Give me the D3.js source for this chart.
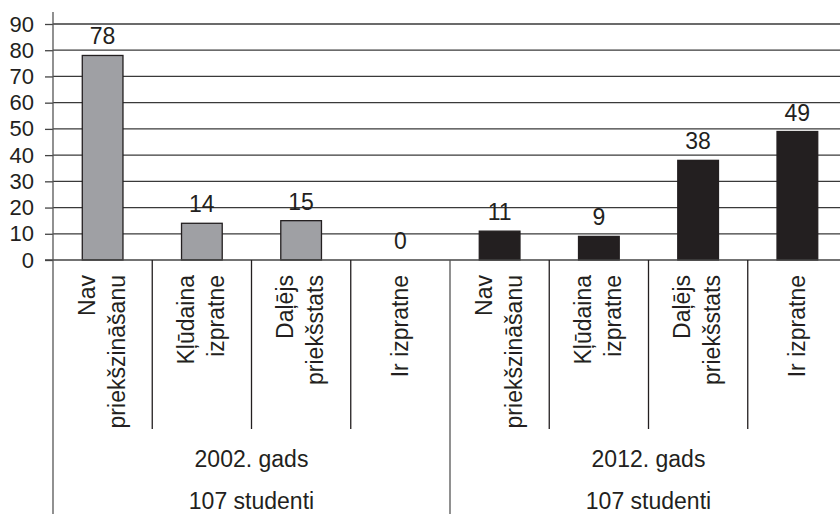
<!DOCTYPE html>
<html>
<head>
<meta charset="utf-8">
<script src="https://cdn.jsdelivr.net/npm/d3@7"></script>
<style>
  html, body { margin: 0; padding: 0; background: #fff; }
  svg { display: block; }
  text { font-family: "Liberation Sans", Arial, sans-serif; fill: #231f20; }
</style>
</head>
<body>
<svg id="chart" width="840" height="514"></svg>
<script>
// ---- data ----
const categoryLabels = [["Nav", "priekšzināšanu"], ["Kļūdaina", "izpratne"], ["Daļējs", "priekšstats"], ["Ir izpratne"]];
const groupYears = ["2002. gads", "2012. gads"];
const groupStudents = ["107 studenti", "107 studenti"];
const values2002 = [78, 14, 15, 0];
const values2012 = [11, 9, 38, 49];
const yTicks = [0, 10, 20, 30, 40, 50, 60, 70, 80, 90];

(function () {
// ---- build flat rows ----
const rows = [];
[values2002, values2012].forEach((vals, g) => {
  vals.forEach((v, i) => rows.push({ group: g, cat: i, label: categoryLabels[i], value: v }));
});

const svg = d3.select("#chart");
const mLeft = 53, mRight = 847, mTop = 24, mBase = 260;

const x = d3.scaleBand().domain(d3.range(rows.length)).range([mLeft, mRight]).padding(0);
const y = d3.scaleLinear().domain([0, 90]).range([mBase, mTop]);
const bw = x.bandwidth();
const barW = bw * 0.41;
const fills = ["#9fa0a4", "#231f20"];

// gridlines
svg.append("g").selectAll("line").data(yTicks.filter(t => t > 0)).join("line")
  .attr("x1", mLeft).attr("x2", 840)
  .attr("y1", d => y(d)).attr("y2", d => y(d))
  .attr("stroke", "#3a3a3a").attr("stroke-width", 1.3);

// y axis with ticks
const yAxis = d3.axisLeft(y).tickValues(yTicks).tickSize(8).tickPadding(11).tickFormat(d3.format("d"));
const ga = svg.append("g").attr("transform", `translate(${mLeft},0)`).call(yAxis);
ga.select(".domain").remove();
ga.selectAll(".tick line").attr("stroke", "#444").attr("stroke-width", 1.3);
ga.selectAll(".tick text").style("font-size", "22px").attr("fill", "#231f20")
  .attr("font-family", "Liberation Sans, Arial, sans-serif");

// bars
svg.append("g").selectAll("rect").data(rows).join("rect")
  .attr("x", (d, i) => x(i) + (bw - barW) / 2)
  .attr("width", barW)
  .attr("y", d => y(d.value))
  .attr("height", d => y(0) - y(d.value))
  .attr("fill", d => fills[d.group])
  .attr("stroke", "#231f20").attr("stroke-width", 1.3);

// value labels
svg.append("g").selectAll("text").data(rows).join("text")
  .attr("x", (d, i) => x(i) + bw / 2)
  .attr("y", d => y(d.value) - 11)
  .attr("text-anchor", "middle")
  .style("font-size", "23px")
  .text(d => d.value);

// category axis line
svg.append("line").attr("x1", mLeft - 8).attr("x2", mRight).attr("y1", mBase).attr("y2", mBase)
  .attr("stroke", "#444").attr("stroke-width", 1.3);

// vertical y axis line
svg.append("line").attr("x1", mLeft).attr("x2", mLeft).attr("y1", 12).attr("y2", 514)
  .attr("stroke", "#555").attr("stroke-width", 1.3);

// dividers
const n = categoryLabels.length;
const bounds = d3.range(1, rows.length + 1);
svg.append("g").selectAll("line").data(bounds).join("line")
  .attr("x1", i => (i < rows.length ? x(i) : mRight))
  .attr("x2", i => (i < rows.length ? x(i) : mRight))
  .attr("y1", mBase)
  .attr("y2", i => (i % n === 0 ? 514 : 429))
  .attr("stroke", i => (i % n === 0 ? "#555" : "#231f20"))
  .attr("stroke-width", 1.3);

// category labels (rotated)
const cl = svg.append("g").selectAll("text").data(rows).join("text")
  .attr("transform", (d, i) => `translate(${x(i) + bw / 2},275) rotate(-90)`)
  .attr("text-anchor", "end")
  .style("font-size", "23px");
cl.each(function (d) {
  const t = d3.select(this);
  const offs = d.label.length === 1 ? [8] : [-8, 22];
  d.label.forEach((line, k) => {
    t.append("tspan").attr("x", 0).attr("y", offs[k]).text(line);
  });
});

// group labels
const gx = g => (x(g * n) + (g * n + n < rows.length ? x(g * n + n) : mRight)) / 2;
svg.append("g").selectAll("text").data(groupYears).join("text")
  .attr("x", (d, g) => gx(g)).attr("y", 467)
  .attr("text-anchor", "middle").style("font-size", "23px").text(d => d);
svg.append("g").selectAll("text").data(groupStudents).join("text")
  .attr("x", (d, g) => gx(g)).attr("y", 509)
  .attr("text-anchor", "middle").style("font-size", "23px").text(d => d);
})();
</script>
</body>
</html>
